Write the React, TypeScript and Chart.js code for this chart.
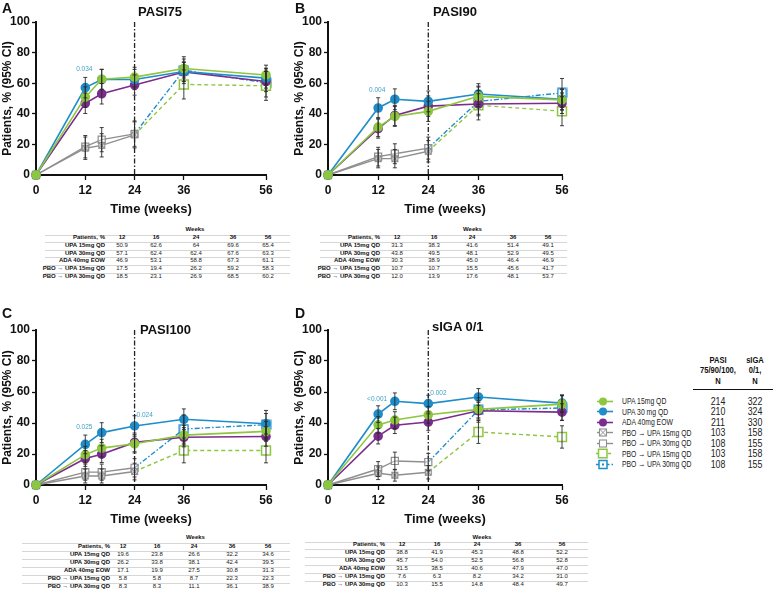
import React, { useEffect, useRef } from "react";
import { Chart, registerables } from "chart.js";

Chart.register(...registerables);

const FONT = "'Liberation Sans', Arial, Helvetica, sans-serif";
const GREEN = "#8DC63F";
const BLUE = "#1F8DC9";
const PURPLE = "#7B2C8D";
const GRAY = "#8F8F8F";
const PTEXT = "#3FA2C6";
const INK = "#111111";

// ---------- shared categories ----------
const weeksActive = [0, 12, 16, 24, 36, 56];
const weeksPlacebo = [0, 12, 16, 24];
const weeksSwitch = [24, 36, 56];
const xTickValues = [0, 12, 24, 36, 56];
const tableWeeks = ["12", "16", "24", "36", "56"];
const groupLabels = ["UPA 15mg QD", "UPA 30mg QD", "ADA 40mg EOW", "PBO \u2192 UPA 15mg QD", "PBO \u2192 UPA 30mg QD"];

// ---------- PASI75 ----------
const pasi75Upa15 = [0, 50.9, 62.6, 64.0, 69.6, 65.4];
const pasi75Upa30 = [0, 57.1, 62.4, 62.4, 67.6, 63.3];
const pasi75Ada = [0, 46.9, 53.1, 58.8, 67.3, 61.1];
const pasi75Pbo15 = [0, 17.5, 19.4, 26.2];
const pasi75Pbo30 = [0, 18.5, 23.1, 26.9];
const pasi75Sw15 = [26.2, 59.2, 58.3];
const pasi75Sw30 = [26.9, 68.5, 60.2];
const pasi75CiUpa15 = [0, 6.7, 6.5, 6.4, 6.2, 6.4];
const pasi75CiUpa30 = [0, 6.7, 6.6, 6.6, 6.3, 6.5];
const pasi75CiAda = [0, 6.7, 6.7, 6.6, 6.3, 6.6];
const pasi75CiPbo15 = [0, 7.3, 7.6, 8.5];
const pasi75CiPbo30 = [0, 7.3, 7.9, 8.4];
const pasi75CiSw15 = [0, 9.5, 9.5];
const pasi75CiSw30 = [0, 8.8, 9.2];
const pasi75PLabels = [{ week: 12, value: 69, text: "0.034", align: "center" }];

// ---------- PASI90 ----------
const pasi90Upa15 = [0, 31.3, 38.3, 41.6, 51.4, 49.1];
const pasi90Upa30 = [0, 43.8, 49.5, 48.1, 52.9, 49.5];
const pasi90Ada = [0, 30.3, 38.9, 45.0, 46.4, 46.9];
const pasi90Pbo15 = [0, 10.7, 10.7, 15.5];
const pasi90Pbo30 = [0, 12.0, 13.9, 17.6];
const pasi90Sw15 = [15.5, 45.6, 41.7];
const pasi90Sw30 = [17.6, 48.1, 53.7];
const pasi90CiUpa15 = [0, 6.2, 6.5, 6.6, 6.7, 6.7];
const pasi90CiUpa30 = [0, 6.7, 6.8, 6.8, 6.8, 6.8];
const pasi90CiAda = [0, 6.2, 6.6, 6.7, 6.7, 6.7];
const pasi90CiPbo15 = [0, 6.0, 6.0, 7.0];
const pasi90CiPbo30 = [0, 6.1, 6.5, 7.2];
const pasi90CiSw15 = [0, 9.6, 9.5];
const pasi90CiSw30 = [0, 9.4, 9.4];
const pasi90PLabels = [{ week: 12, value: 55.5, text: "0.004", align: "center" }];

// ---------- PASI100 ----------
const pasi100Upa15 = [0, 19.6, 23.8, 26.6, 32.2, 34.6];
const pasi100Upa30 = [0, 26.2, 33.8, 38.1, 42.4, 39.5];
const pasi100Ada = [0, 17.1, 19.9, 27.5, 30.8, 31.3];
const pasi100Pbo15 = [0, 5.8, 5.8, 8.7];
const pasi100Pbo30 = [0, 8.3, 8.3, 11.1];
const pasi100Sw15 = [8.7, 22.3, 22.3];
const pasi100Sw30 = [11.1, 36.1, 38.9];
const pasi100CiUpa15 = [0, 5.3, 5.7, 5.9, 6.3, 6.4];
const pasi100CiUpa30 = [0, 6.0, 6.4, 6.6, 6.7, 6.6];
const pasi100CiAda = [0, 5.1, 5.4, 6.0, 6.2, 6.3];
const pasi100CiPbo15 = [0, 4.5, 4.5, 5.4];
const pasi100CiPbo30 = [0, 5.2, 5.2, 5.9];
const pasi100CiSw15 = [0, 8.0, 8.0];
const pasi100CiSw30 = [0, 9.1, 9.2];
const pasi100PLabels = [
  { week: 12, value: 37.5, text: "0.025", align: "center" },
  { week: 24, value: 45, text: "0.024", align: "left" },
];

// ---------- sIGA 0/1 ----------
const sigaUpa15 = [0, 38.8, 41.9, 45.3, 48.8, 52.2];
const sigaUpa30 = [0, 45.7, 54.0, 52.5, 56.8, 52.8];
const sigaAda = [0, 31.5, 38.5, 40.6, 47.9, 47.0];
const sigaPbo15 = [0, 7.6, 6.3, 8.2];
const sigaPbo30 = [0, 10.3, 15.5, 14.8];
const sigaSw15 = [8.2, 34.2, 31.0];
const sigaSw30 = [14.8, 48.4, 49.7];
const sigaCiUpa15 = [0, 5.3, 5.4, 5.4, 5.5, 5.5];
const sigaCiUpa30 = [0, 5.4, 5.4, 5.4, 5.4, 5.4];
const sigaCiAda = [0, 5.0, 5.3, 5.3, 5.4, 5.4];
const sigaCiPbo15 = [0, 4.1, 3.8, 4.3];
const sigaCiPbo30 = [0, 4.8, 5.7, 5.6];
const sigaCiSw15 = [0, 7.4, 7.2];
const sigaCiSw30 = [0, 7.9, 7.9];
const sigaPLabels = [
  { week: 12, value: 55.5, text: "<0.001", align: "center" },
  { week: 24, value: 59, text: "0.002", align: "left" },
];

// ---------- legend ----------
const legendLabels = ["UPA 15mg QD", "UPA 30 mg QD", "ADA 40mg EOW", "PBO \u2192 UPA 15mg QD", "PBO \u2192 UPA 30mg QD", "PBO \u2192 UPA 15mg QD", "PBO \u2192 UPA 30mg QD"];
const legendNPasi = ["214", "210", "211", "103", "108", "103", "108"];
const legendNSiga = ["322", "324", "330", "158", "155", "158", "155"];
const legendHeadPasi = ["PASI", "75/90/100,", "N"];
const legendHeadSiga = ["sIGA", "0/1,", "N"];

const fmtA = (v: number) => String(v);
const fmt1 = (v: number) => v.toFixed(1);

const panels = [
  {
    id: "A", title: "PASI75", fmt: fmtA,
    upa15: pasi75Upa15, upa30: pasi75Upa30, ada: pasi75Ada, pbo15: pasi75Pbo15, pbo30: pasi75Pbo30, sw15: pasi75Sw15, sw30: pasi75Sw30,
    ci: [pasi75CiUpa15, pasi75CiUpa30, pasi75CiAda, pasi75CiPbo15, pasi75CiPbo30, pasi75CiSw15, pasi75CiSw30],
    pLabels: pasi75PLabels,
    canvas: { left: 0, top: 0, width: 285, height: 222, padTop: 22 },
    letter: { left: 2, top: 1 }, heading: { center: 160, top: 5 },
    table: { left: 45, right: 290, labelRight: 105, cols: [122, 156, 196, 233, 268], weeksY: 230, headerY: 238, rowY0: 246, rowH: 7.6 },
  },
  {
    id: "B", title: "PASI90", fmt: fmt1,
    upa15: pasi90Upa15, upa30: pasi90Upa30, ada: pasi90Ada, pbo15: pasi90Pbo15, pbo30: pasi90Pbo30, sw15: pasi90Sw15, sw30: pasi90Sw30,
    ci: [pasi90CiUpa15, pasi90CiUpa30, pasi90CiAda, pasi90CiPbo15, pasi90CiPbo30, pasi90CiSw15, pasi90CiSw30],
    pLabels: pasi90PLabels,
    canvas: { left: 292, top: 0, width: 289, height: 222, padTop: 22 },
    letter: { left: 295, top: 1 }, heading: { center: 455, top: 5 },
    table: { left: 320, right: 567, labelRight: 380, cols: [397, 434, 472, 513, 548], weeksY: 230, headerY: 238, rowY0: 246, rowH: 7.6 },
  },
  {
    id: "C", title: "PASI100", fmt: fmt1,
    upa15: pasi100Upa15, upa30: pasi100Upa30, ada: pasi100Ada, pbo15: pasi100Pbo15, pbo30: pasi100Pbo30, sw15: pasi100Sw15, sw30: pasi100Sw30,
    ci: [pasi100CiUpa15, pasi100CiUpa30, pasi100CiAda, pasi100CiPbo15, pasi100CiPbo30, pasi100CiSw15, pasi100CiSw30],
    pLabels: pasi100PLabels,
    canvas: { left: 0, top: 300, width: 285, height: 232, padTop: 30 },
    letter: { left: 2, top: 306 }, heading: { left: 140, top: 323 },
    table: { left: 22, right: 290, labelRight: 110, cols: [123, 157, 194, 232, 268], weeksY: 538, headerY: 547, rowY0: 555, rowH: 8 },
  },
  {
    id: "D", title: "sIGA 0/1", fmt: fmt1,
    upa15: sigaUpa15, upa30: sigaUpa30, ada: sigaAda, pbo15: sigaPbo15, pbo30: sigaPbo30, sw15: sigaSw15, sw30: sigaSw30,
    ci: [sigaCiUpa15, sigaCiUpa30, sigaCiAda, sigaCiPbo15, sigaCiPbo30, sigaCiSw15, sigaCiSw30],
    pLabels: sigaPLabels,
    canvas: { left: 292, top: 300, width: 289, height: 232, padTop: 30 },
    letter: { left: 295, top: 306 }, heading: { left: 432, top: 320 },
    table: { left: 305, right: 588, labelRight: 385, cols: [402, 437, 477, 518, 562], weeksY: 538, headerY: 545, rowY0: 553, rowH: 8 },
  },
];

let styleCache: any = null;
function pointStyles() {
  if (styleCache) return styleCache;
  const cross = document.createElement("canvas");
  cross.width = 9;
  cross.height = 9;
  let g = cross.getContext("2d")!;
  g.fillStyle = "rgba(255,255,255,0.7)";
  g.fillRect(1, 1, 7, 7);
  g.strokeStyle = GRAY;
  g.lineWidth = 1.1;
  g.strokeRect(1.5, 1.5, 6, 6);
  g.beginPath();
  g.moveTo(1.5, 1.5);
  g.lineTo(7.5, 7.5);
  g.moveTo(7.5, 1.5);
  g.lineTo(1.5, 7.5);
  g.stroke();
  const dot = document.createElement("canvas");
  dot.width = 11;
  dot.height = 11;
  g = dot.getContext("2d")!;
  g.fillStyle = "#ffffff";
  g.fillRect(1, 1, 9, 9);
  g.strokeStyle = BLUE;
  g.lineWidth = 1.5;
  g.strokeRect(1.25, 1.25, 8.5, 8.5);
  g.fillStyle = BLUE;
  g.fillRect(4.5, 4.5, 2, 2);
  styleCache = { cross, dot };
  return styleCache;
}

const pts = (weeks: number[], vals: number[]) => weeks.map((w, i) => ({ x: w, y: vals[i] }));

const errorBarPlugin = {
  id: "errorBars",
  afterDatasetsDraw(chart: any) {
    const ctx = chart.ctx;
    const ys = chart.scales.y;
    chart.data.datasets.forEach((ds: any, i: number) => {
      if (!ds.ci) return;
      const meta = chart.getDatasetMeta(i);
      meta.data.forEach((pt: any, j: number) => {
        const h = ds.ci[j];
        if (!h) return;
        const v = ds.data[j].y;
        const x = pt.x;
        const y1 = ys.getPixelForValue(v + h);
        const y2 = ys.getPixelForValue(Math.max(0, v - h));
        ctx.save();
        ctx.strokeStyle = "#2a2a2a";
        ctx.lineWidth = 0.9;
        ctx.beginPath();
        ctx.moveTo(x, y1);
        ctx.lineTo(x, y2);
        ctx.moveTo(x - 2, y1);
        ctx.lineTo(x + 2, y1);
        ctx.moveTo(x - 2, y2);
        ctx.lineTo(x + 2, y2);
        ctx.stroke();
        ctx.restore();
      });
    });
  },
};

const annotPlugin = {
  id: "annot",
  beforeDatasetsDraw(chart: any, _args: any, opts: any) {
    const ctx = chart.ctx;
    const xs = chart.scales.x;
    const area = chart.chartArea;
    const x = xs.getPixelForValue(opts.vline);
    ctx.save();
    ctx.strokeStyle = "#222";
    ctx.lineWidth = 1.3;
    ctx.setLineDash([5, 2, 1.5, 2]);
    ctx.beginPath();
    ctx.moveTo(x, area.top);
    ctx.lineTo(x, area.bottom);
    ctx.stroke();
    ctx.restore();
  },
  afterDatasetsDraw(chart: any, _args: any, opts: any) {
    const ctx = chart.ctx;
    const xs = chart.scales.x;
    const ys = chart.scales.y;
    ctx.save();
    ctx.fillStyle = PTEXT;
    ctx.font = `6.5px ${FONT}`;
    ctx.textBaseline = "middle";
    (opts.labels || []).forEach((l: any) => {
      const px = xs.getPixelForValue(l.week);
      const py = ys.getPixelForValue(l.value);
      if (l.align === "left") {
        ctx.textAlign = "left";
        ctx.fillText(l.text, px + 2, py);
      } else {
        ctx.textAlign = "center";
        ctx.fillText(l.text, px - 1, py);
      }
    });
    ctx.restore();
  },
};

function buildDatasets(p: any) {
  const st = pointStyles();
  const base = { clip: false, fill: false, tension: 0, pointHoverRadius: 0 };
  return [
    { ...base, data: pts(weeksActive, p.upa15), ci: p.ci[0], borderColor: GREEN, backgroundColor: GREEN, pointBackgroundColor: GREEN, pointBorderColor: GREEN, pointStyle: "circle", pointRadius: 4, borderWidth: 1.6 },
    { ...base, data: pts(weeksActive, p.upa30), ci: p.ci[1], borderColor: BLUE, backgroundColor: BLUE, pointBackgroundColor: BLUE, pointBorderColor: BLUE, pointStyle: "circle", pointRadius: 4, borderWidth: 1.6 },
    { ...base, data: pts(weeksActive, p.ada), ci: p.ci[2], borderColor: PURPLE, backgroundColor: PURPLE, pointBackgroundColor: PURPLE, pointBorderColor: PURPLE, pointStyle: "circle", pointRadius: 4, borderWidth: 1.6 },
    { ...base, data: pts(weeksPlacebo, p.pbo15), ci: p.ci[3], borderColor: GRAY, pointStyle: st.cross, pointRadius: 4, borderWidth: 1.4 },
    { ...base, data: pts(weeksPlacebo, p.pbo30), ci: p.ci[4], borderColor: GRAY, pointStyle: "rect", pointRadius: 5, pointBackgroundColor: "rgba(255,255,255,0.4)", pointBorderColor: GRAY, pointBorderWidth: 1.2, borderWidth: 1.4 },
    { ...base, data: pts(weeksSwitch, p.sw15), ci: p.ci[5], borderColor: GREEN, borderDash: [4, 3], pointStyle: "rect", pointRadius: [0, 6.3, 6.3], pointBackgroundColor: "#ffffff", pointBorderColor: GREEN, pointBorderWidth: 1.5, borderWidth: 1.4 },
    { ...base, data: pts(weeksSwitch, p.sw30), ci: p.ci[6], borderColor: BLUE, borderDash: [5, 2, 1.5, 2], pointStyle: st.dot, pointRadius: [0, 5, 5], borderWidth: 1.4 },
  ];
}

function PanelChart({ p }: { p: any }) {
  const ref = useRef<HTMLCanvasElement>(null);
  useEffect(() => {
    const cv = p.canvas;
    const chart = new Chart(ref.current!, {
      type: "line",
      data: { datasets: buildDatasets(p) as any },
      options: {
        animation: false,
        responsive: false,
        devicePixelRatio: 1,
        layout: { padding: { top: cv.padTop, right: 19, left: 0, bottom: 0 } },
        plugins: {
          legend: { display: false },
          tooltip: { enabled: false },
          annot: { vline: 24, labels: p.pLabels },
        } as any,
        scales: {
          x: {
            type: "linear",
            min: 0,
            max: 56,
            afterBuildTicks: (s: any) => {
              s.ticks = xTickValues.map((v) => ({ value: v }));
            },
            afterFit: (s: any) => {
              s.height = 47;
            },
            ticks: { font: { family: FONT, size: 12, weight: "bold" }, color: INK, padding: 3, maxRotation: 0, autoSkip: false },
            grid: { display: true, drawOnChartArea: false, drawTicks: true, tickLength: 5, tickColor: INK, tickWidth: 1.3, color: INK },
            border: { display: true, color: INK, width: 2 },
            title: { display: true, text: "Time (weeks)", font: { family: FONT, size: 13, weight: "bold" }, color: INK, padding: { top: 0, bottom: 5 } },
          },
          y: {
            min: 0,
            max: 100,
            afterFit: (s: any) => {
              s.width = 36;
            },
            ticks: { stepSize: 20, font: { family: FONT, size: 12, weight: "bold" }, color: INK, padding: 2 },
            grid: { display: true, drawOnChartArea: false, drawTicks: true, tickLength: 4, tickColor: INK, tickWidth: 1.3, color: INK },
            border: { display: true, color: INK, width: 2 },
            title: { display: true, text: "Patients, % (95% CI)", font: { family: FONT, size: 12, weight: "bold" }, color: INK, padding: { top: 0, bottom: 0 } },
          },
        },
      } as any,
      plugins: [annotPlugin, errorBarPlugin],
    });
    return () => chart.destroy();
  }, []);
  const cv = p.canvas;
  return (
    <canvas
      ref={ref}
      width={cv.width}
      height={cv.height}
      style={{ position: "absolute", left: cv.left, top: cv.top, width: cv.width, height: cv.height }}
    />
  );
}

function Txt({ x, y, w, align, size, bold, color, sx, children }: any) {
  // y = vertical centre; sx = horizontal squeeze
  const h = size * 1.3;
  let left = x;
  if (align === "center") left = x - w / 2;
  if (align === "right") left = x - w;
  const origin = align === "center" ? "center" : align === "right" ? "right" : "left";
  return (
    <div
      style={{
        position: "absolute",
        left,
        top: y - h / 2,
        width: w,
        height: h,
        lineHeight: `${h}px`,
        fontSize: size,
        fontWeight: bold ? 700 : 400,
        textAlign: align || "left",
        whiteSpace: "nowrap",
        color: color || INK,
        transform: sx ? `scaleX(${sx})` : undefined,
        transformOrigin: `${origin} center`,
      }}
    >
      {children}
    </div>
  );
}

function DataTable({ p }: { p: any }) {
  const t = p.table;
  const rows = [
    p.upa15.slice(1),
    p.upa30.slice(1),
    p.ada.slice(1),
    p.pbo15.slice(1).concat(p.sw15.slice(1)),
    p.pbo30.slice(1).concat(p.sw30.slice(1)),
  ].map((r: number[]) => r.map(p.fmt));
  const mid = (t.cols[0] + t.cols[4]) / 2;
  const rowYs = rows.map((_: any, i: number) => t.rowY0 + i * t.rowH);
  const lineYs = [(t.weeksY + t.headerY) / 2 + 0.5, (t.headerY + rowYs[0]) / 2];
  for (let i = 0; i < rowYs.length - 1; i++) lineYs.push((rowYs[i] + rowYs[i + 1]) / 2);
  return (
    <>
      {lineYs.map((ly, i) => (
        <div key={"l" + i} style={{ position: "absolute", left: t.left, top: Math.round(ly), width: t.right - t.left, height: 1, background: "#d6d6d6" }} />
      ))}
      <Txt x={mid} y={t.weeksY} w={60} align="center" size={6} bold>Weeks</Txt>
      <Txt x={t.labelRight} y={t.headerY} w={80} align="right" size={6} bold>Patients, %</Txt>
      {tableWeeks.map((w, i) => (
        <Txt key={"h" + i} x={t.cols[i]} y={t.headerY} w={30} align="center" size={6} bold>{w}</Txt>
      ))}
      {rows.map((r: string[], i: number) => (
        <React.Fragment key={"r" + i}>
          <Txt x={t.labelRight} y={rowYs[i]} w={90} align="right" size={6} bold>{groupLabels[i]}</Txt>
          {r.map((v, j) => (
            <Txt key={j} x={t.cols[j]} y={rowYs[i]} w={30} align="center" size={6} color="#222">{v}</Txt>
          ))}
        </React.Fragment>
      ))}
    </>
  );
}

function LegendMarker({ i }: { i: number }) {
  const y = 5.5;
  if (i < 3) {
    const c = [GREEN, BLUE, PURPLE][i];
    return (
      <>
        <line x1={3} x2={19} y1={y} y2={y} stroke={c} strokeWidth={1.6} />
        <circle cx={9} cy={y} r={4} fill={c} />
      </>
    );
  }
  if (i === 3) {
    return (
      <>
        <line x1={3} x2={19} y1={y} y2={y} stroke={GRAY} strokeWidth={1.4} />
        <rect x={5.5} y={2} width={7} height={7} fill="#fff" stroke={GRAY} strokeWidth={1.1} />
        <line x1={5.5} y1={2} x2={12.5} y2={9} stroke={GRAY} strokeWidth={1} />
        <line x1={12.5} y1={2} x2={5.5} y2={9} stroke={GRAY} strokeWidth={1} />
      </>
    );
  }
  if (i === 4) {
    return (
      <>
        <line x1={3} x2={19} y1={y} y2={y} stroke={GRAY} strokeWidth={1.4} />
        <rect x={5.5} y={2} width={7} height={7} fill="#fff" stroke={GRAY} strokeWidth={1.1} />
      </>
    );
  }
  if (i === 5) {
    return (
      <>
        <line x1={2} x2={19} y1={y} y2={y} stroke={GREEN} strokeWidth={1.4} strokeDasharray="3 3" />
        <rect x={4.5} y={1.3} width={8.5} height={8.5} fill="#fff" stroke={GREEN} strokeWidth={1.5} />
      </>
    );
  }
  return (
    <>
      <line x1={2} x2={19} y1={y} y2={y} stroke={BLUE} strokeWidth={1.4} strokeDasharray="4 2 1.5 2" />
      <rect x={5} y={1.5} width={8} height={8} fill="#fff" stroke={BLUE} strokeWidth={1.5} />
      <rect x={8} y={4.5} width={2} height={2} fill={BLUE} />
    </>
  );
}

function Legend() {
  const rowY0 = 401.5;
  const step = 10.45;
  return (
    <>
      {legendHeadPasi.map((s, i) => (
        <Txt key={"ph" + i} x={718} y={360 + i * 10.5} w={70} align="center" size={9.5} bold sx={0.8}>{s}</Txt>
      ))}
      {legendHeadSiga.map((s, i) => (
        <Txt key={"sh" + i} x={755} y={360 + i * 10.5} w={40} align="center" size={9.5} bold sx={0.8}>{s}</Txt>
      ))}
      <div style={{ position: "absolute", left: 693, top: 388.5, width: 80, height: 1.5, background: INK }} />
      {legendLabels.map((lab, i) => {
        const y = rowY0 + i * step;
        return (
          <React.Fragment key={"lg" + i}>
            <svg width={20} height={11} style={{ position: "absolute", left: 594, top: y - 5.5 }}>
              <LegendMarker i={i} />
            </svg>
            <Txt x={622} y={y} w={100} size={9.5} color="#222" sx={0.72}>{lab}</Txt>
            <Txt x={718} y={y} w={30} align="center" size={10} color="#222" sx={0.88}>{legendNPasi[i]}</Txt>
            <Txt x={755} y={y} w={30} align="center" size={10} color="#222" sx={0.88}>{legendNSiga[i]}</Txt>
          </React.Fragment>
        );
      })}
    </>
  );
}

export default function App() {
  return (
    <div
      style={{
        position: "absolute",
        left: 0,
        top: 0,
        width: 773,
        height: 594,
        background: "#ffffff",
        fontFamily: FONT,
        color: INK,
        overflow: "hidden",
      }}
    >
      {panels.map((p) => (
        <PanelChart key={p.id} p={p} />
      ))}
      {panels.map((p) => (
        <React.Fragment key={"t" + p.id}>
          <div style={{ position: "absolute", left: p.letter.left, top: p.letter.top, fontSize: 14, lineHeight: "14px", fontWeight: 700 }}>{p.id}</div>
          {p.heading.center !== undefined ? (
            <div style={{ position: "absolute", left: p.heading.center - 60, width: 120, textAlign: "center", top: p.heading.top, fontSize: 13, lineHeight: "13px", fontWeight: 700 }}>{p.title}</div>
          ) : (
            <div style={{ position: "absolute", left: p.heading.left, top: p.heading.top, fontSize: 13, lineHeight: "13px", fontWeight: 700, whiteSpace: "nowrap" }}>{p.title}</div>
          )}
          <DataTable p={p} />
        </React.Fragment>
      ))}
      <Legend />
    </div>
  );
}
